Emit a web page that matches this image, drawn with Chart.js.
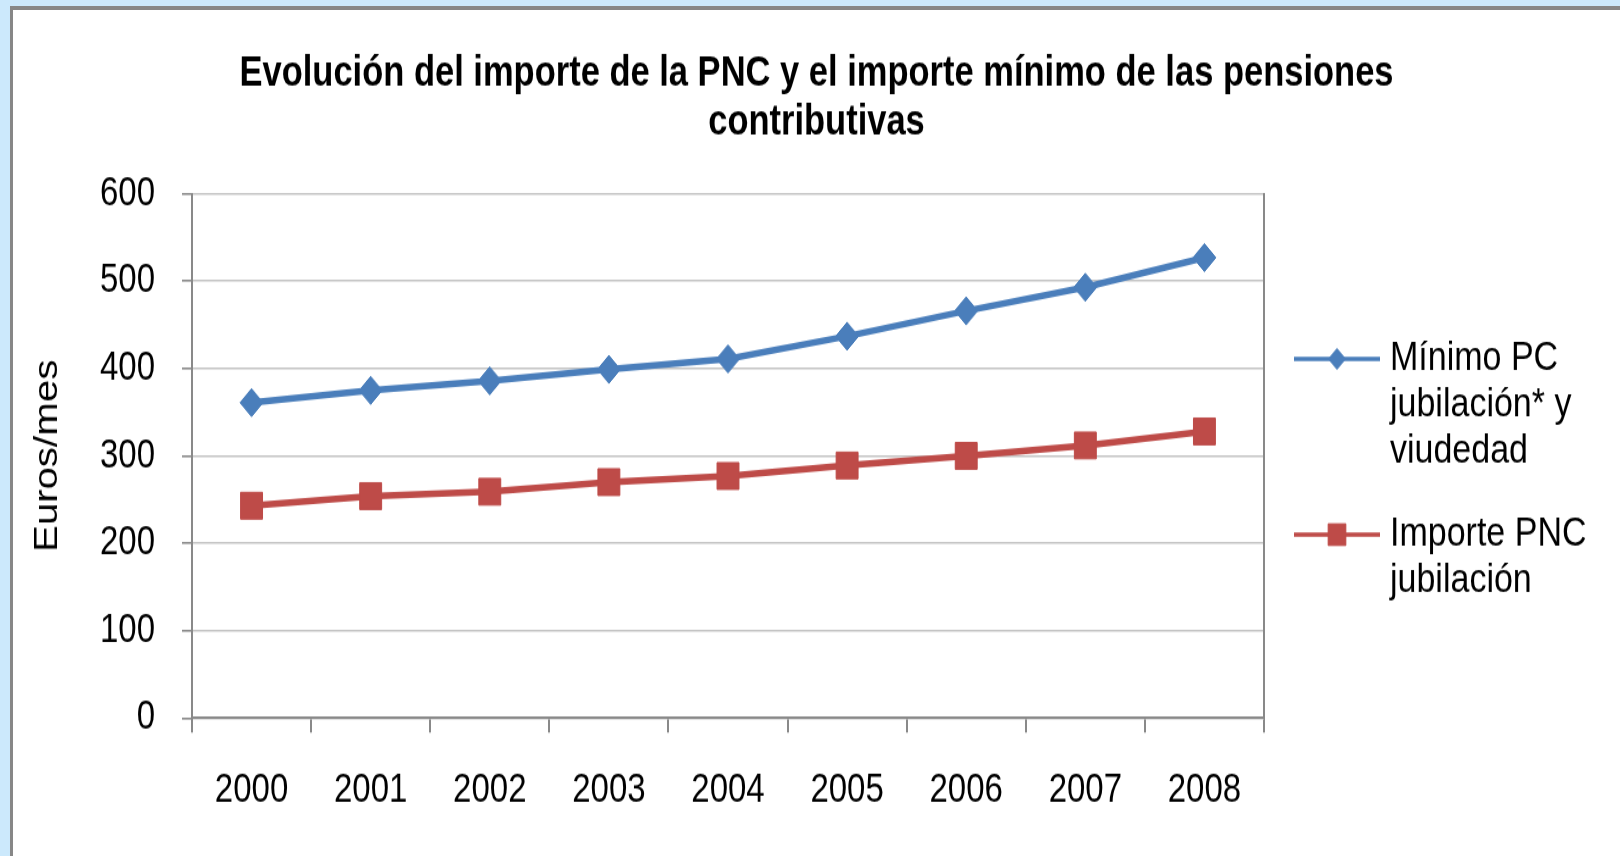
<!DOCTYPE html>
<html lang="es">
<head>
<meta charset="UTF-8">
<title>Evolución del importe de la PNC</title>
<script src="https://cdn.jsdelivr.net/npm/chart.js"></script>
<style>
  html, body { margin: 0; padding: 0; }
  body { width: 1620px; height: 856px; background: #cce9fc; overflow: hidden; position: relative; }
  .frame {
    position: absolute; left: 10px; top: 6px;
    width: 1610px; height: 850px;
    background: #fff;
    border-left: 3px solid #878787;
    border-top: 4px solid #878787;
    overflow: hidden;
  }
  /* the original picture is stretched vertically, so the canvas is too */
  .stretch { transform: scaleY(1.22); transform-origin: 0 0; }
  .stretch canvas { display: block; }
</style>
</head>
<body>
<div class="frame">
  <div class="stretch">
    <canvas id="pensionChart" width="1607" height="694"></canvas>
  </div>
</div>
<script>
// data
const years = ['2000', '2001', '2002', '2003', '2004', '2005', '2006', '2007', '2008'];
const minimoPC = [361, 375, 386, 399, 411, 437, 466, 493, 527];
const importePNC = [243, 254, 259, 270, 277, 289, 300, 312, 328];
const yMin = 0, yMax = 600, yStep = 100;
const seriesNames = [
  ['Mínimo PC', 'jubilación* y', 'viudedad'],
  ['Importe PNC', 'jubilación']
];

const FONT = "'Liberation Sans', Arial, sans-serif";
const BLUE = '#4a7ebb';
const RED = '#be4b48';
const AXIS = '#898989';

// multi-line legend on the right
const sideLegend = {
  id: 'sideLegend',
  afterDraw(chart) {
    const { ctx } = chart;
    const lineX1 = 1281, lineX2 = 1367, textX = 1377;
    const startY = [286, 430];
    const lh = 38;
    chart.data.datasets.forEach((ds, i) => {
      const y = startY[i];
      ctx.save();
      ctx.strokeStyle = ds.borderColor;
      ctx.lineWidth = 3.5;
      ctx.beginPath();
      ctx.moveTo(lineX1, y);
      ctx.lineTo(lineX2, y);
      ctx.stroke();
      ctx.fillStyle = ds.backgroundColor;
      ctx.lineWidth = 1;
      Chart.helpers.drawPoint(ctx, {
        pointStyle: ds.pointStyle,
        radius: ds.pointStyle === 'rect' ? 12.5 : 8.5,
        borderWidth: 1
      }, (lineX1 + lineX2) / 2, y);
      ctx.fillStyle = '#000';
      ctx.font = '34px ' + FONT;
      ctx.textBaseline = 'middle';
      ctx.textAlign = 'left';
      seriesNames[i].forEach((t, k) => ctx.fillText(t, textX, y + k * lh));
      ctx.restore();
    });
  }
};

const ctx = document.getElementById('pensionChart').getContext('2d');
const pensionChart = new Chart(ctx, {
  type: 'line',
  data: {
    labels: years,
    datasets: [
      {
        label: seriesNames[0].join(' '),
        data: minimoPC,
        borderColor: BLUE,
        backgroundColor: BLUE,
        borderWidth: 5.5,
        pointStyle: 'rectRot',
        pointRadius: 11.5,
        pointBorderWidth: 1,
        tension: 0
      },
      {
        label: seriesNames[1].join(' '),
        data: importePNC,
        borderColor: RED,
        backgroundColor: RED,
        borderWidth: 5.5,
        pointStyle: 'rect',
        pointRadius: 15.5,
        pointBorderWidth: 1,
        tension: 0
      }
    ]
  },
  options: {
    responsive: false,
    animation: false,
    layout: { padding: 0 },
    plugins: {
      legend: { display: false },
      tooltip: { enabled: false },
      title: {
        display: true,
        text: ['Evolución del importe de la PNC y el importe mínimo de las pensiones', 'contributivas'],
        color: '#000',
        font: { family: FONT, size: 34.5, weight: 'bold', lineHeight: 1.14 },
        padding: { top: 33, bottom: 39 }
      }
    },
    scales: {
      x: {
        offset: true,
        grid: {
          offset: true,
          drawOnChartArea: false,
          drawTicks: true,
          tickLength: 12,
          color: AXIS,
          lineWidth: 2
        },
        border: { color: AXIS, width: 2 },
        ticks: {
          color: '#000',
          padding: 28,
          maxRotation: 0,
          font: { family: FONT, size: 33 }
        },
        afterFit(scale) { scale.height = 113.7; }
      },
      y: {
        min: yMin,
        max: yMax,
        ticks: {
          stepSize: yStep,
          color: '#000',
          padding: 27,
          font: { family: FONT, size: 33 }
        },
        grid: {
          color: '#c3c3c3',
          lineWidth: 1.6,
          drawTicks: true,
          tickLength: 10,
          tickColor: AXIS
        },
        border: { color: AXIS, width: 2 },
        title: {
          display: true,
          text: 'Euros/mes',
          color: '#000',
          padding: { top: 15, bottom: 0 },
          font: { family: FONT, size: 33 }
        },
        afterFit(scale) { scale.width = 179; }
      },
      // empty right axis: keeps room for the legend and draws the right frame line
      yRight: {
        position: 'right',
        min: yMin,
        max: yMax,
        ticks: { display: false },
        grid: { display: false, drawTicks: false },
        border: { display: true, color: AXIS, width: 2 },
        afterFit(scale) { scale.width = 356; }
      }
    }
  },
  plugins: [sideLegend]
});
</script>
</body>
</html>
